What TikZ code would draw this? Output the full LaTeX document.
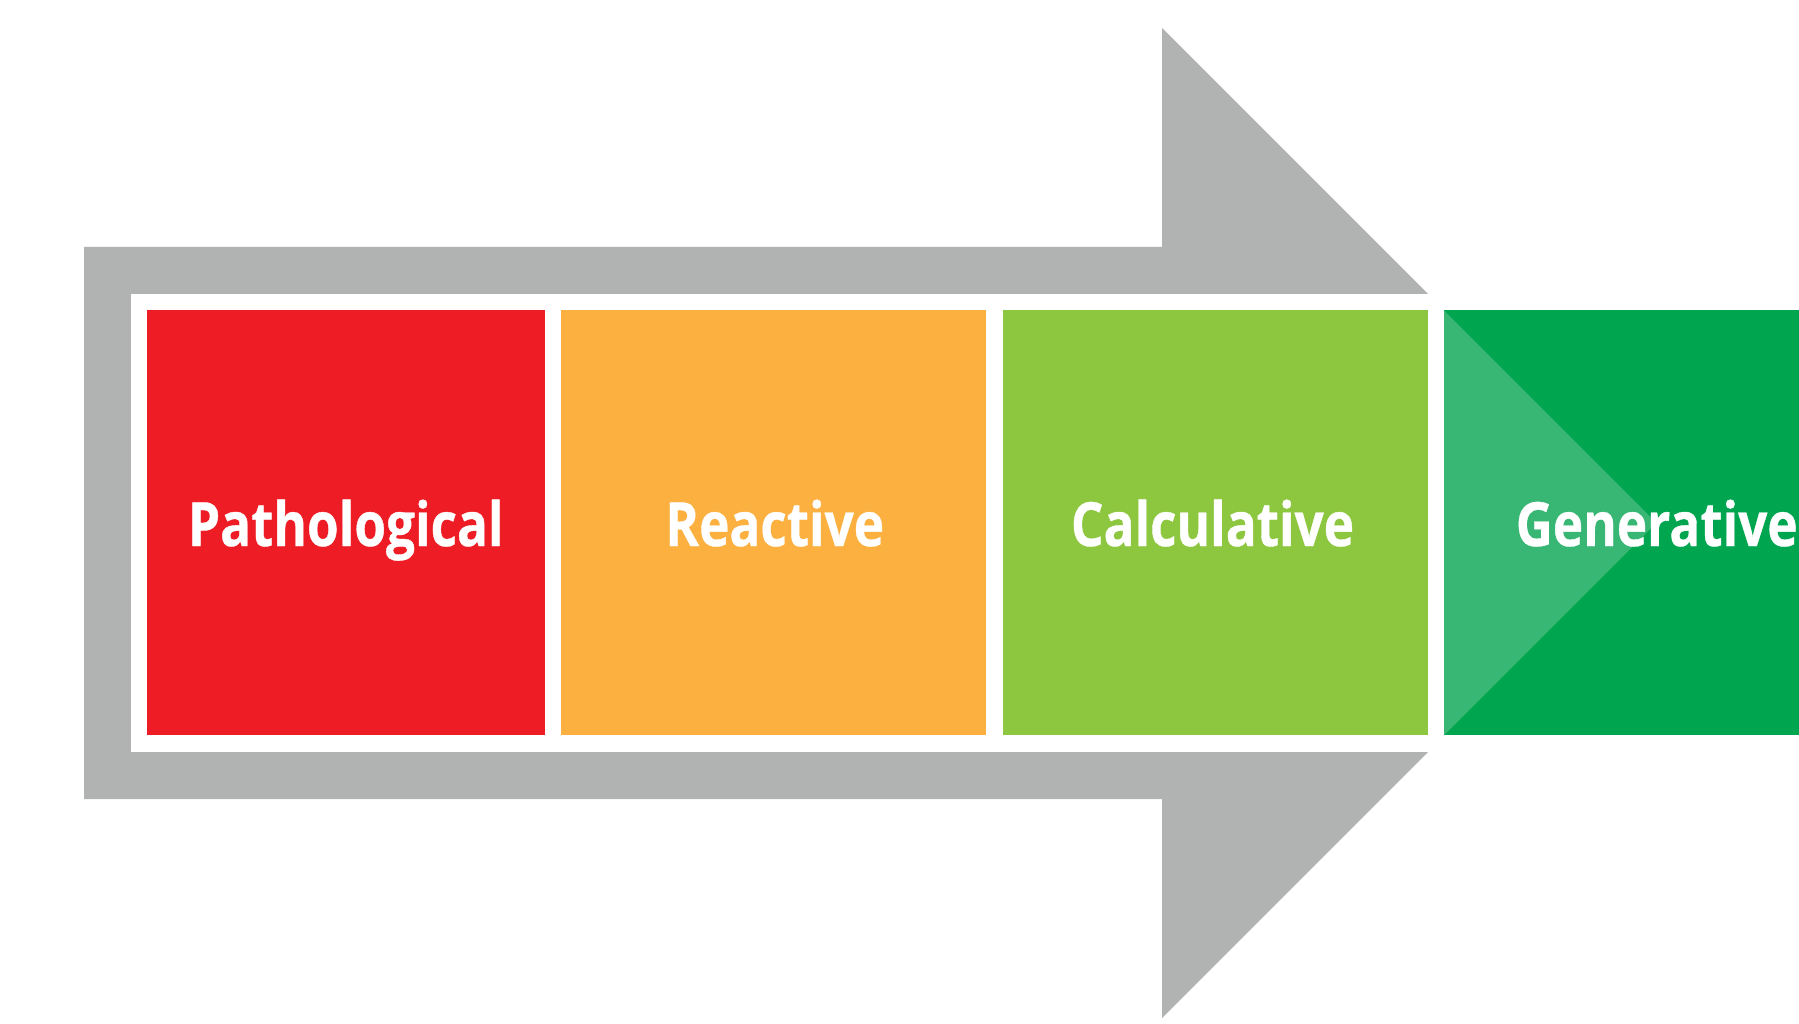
\documentclass[tikz,border=0pt]{standalone}
\usepackage{fontspec}
\setmainfont{Open Sans}[FakeStretch=0.84,FakeBold=0.6]
\definecolor{arrowgray}{HTML}{B1B3B2}
\definecolor{stagered}{HTML}{EE1D25}
\definecolor{stageorange}{HTML}{FBB040}
\definecolor{stagelime}{HTML}{8DC63F}
\definecolor{stagegreen}{HTML}{00A54F}
\definecolor{stageshade}{HTML}{37B674}
\begin{document}
\begin{tikzpicture}[x=1pt,y=-1pt,
  stagebox/.style={fill=#1,draw=none},
  stagelabel/.style={anchor=base,text=white,inner sep=0pt,
    font=\fontsize{61}{61}\selectfont\bfseries}]
\useasboundingbox (0,0) rectangle (1799,1024);
% big grey arrow behind the stages
\fill[arrowgray] (84,247) -- (1162,247) -- (1162,28) -- (1657,523)
  -- (1162,1018) -- (1162,799) -- (84,799) -- cycle;
% white band that carries the stages
\fill[white] (130.7,294) rectangle (1799,752);
% stage boxes
\fill[stagebox=stagered] (147.3,310.5) rectangle (544.6,735.3);
\fill[stagebox=stageorange] (561.4,310.5) rectangle (986,735.3);
\fill[stagebox=stagelime] (1002.9,310.5) rectangle (1427.5,735.3);
\fill[stagebox=stagegreen] (1444,310.5) rectangle (1799,735.3);
\fill[stageshade] (1444,310.5) -- (1656.4,522.9) -- (1444,735.3) -- cycle;
% labels
\node[stagelabel] (patho) at (345.8,546) {Pathological};
\node[stagelabel] (react) at (774.7,546) {Reactive};
\node[stagelabel] (calc) at (1212.5,546) {Calculative};
\node[stagelabel] (gener) at (1656.7,546) {Generative};
\end{tikzpicture}
\end{document}
